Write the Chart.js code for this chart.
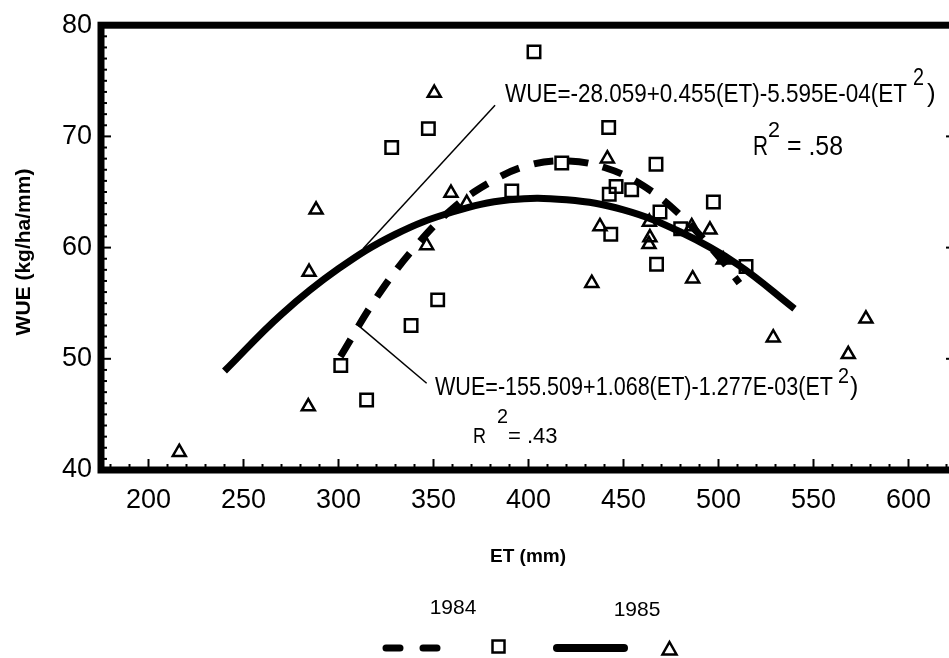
<!DOCTYPE html>
<html>
<head>
<meta charset="utf-8">
<script src="https://cdn.jsdelivr.net/npm/chart.js@4.4.1/dist/chart.umd.min.js"></script>
<style>
  html, body { margin:0; padding:0; background:#fff; overflow:hidden; width:949px; height:658px; }
  #wrap { position:relative; width:949px; height:658px; overflow:hidden; }
  #chartWue { position:absolute; left:0; top:0; display:block; width:960px; height:658px; }
</style>
</head>
<body>
<div id="wrap"><canvas id="chartWue" width="960" height="658"></canvas></div>
<script>
// ── DATA ──────────────────────────────────────────────
var xTicks = [200, 250, 300, 350, 400, 450, 500, 550, 600];
var yTicks = [40, 50, 60, 70, 80];

// 1984 observations (squares)
var et1984  = [402.9, 347.3, 328.0, 442.2, 467.1, 391.2, 446.1, 454.3, 442.5, 469.2, 443.3, 497.3, 480.1, 467.4, 514.5, 352.2, 338.2, 301.2, 314.8, 417.5];
var wue1984 = [77.6, 70.7, 69.0, 70.8, 67.5, 65.1, 65.5, 65.2, 64.8, 63.2, 61.2, 64.1, 61.7, 58.5, 58.3, 55.3, 53.0, 49.4, 46.3, 67.6];

// 1985 observations (triangles)
var et1985  = [350.4, 441.5, 359.2, 367.5, 463.6, 463.9, 463.4, 437.6, 346.4, 495.5, 486.4, 433.3, 528.8, 577.6, 568.3, 288.2, 284.5, 284.1, 216.2, 502.5, 485.9];
var wue1985 = [73.9, 68.0, 64.9, 64.0, 62.3, 60.9, 60.3, 61.9, 60.2, 61.6, 57.2, 56.8, 51.9, 53.6, 50.4, 63.4, 57.8, 45.7, 41.6, 58.9, 61.9];

// fitted curves
var fitEt1984  = [301, 320, 340, 360, 380, 400, 420, 440, 460, 480, 500, 511];
var fitWue1984 = [50.2, 55.5, 60.0, 63.5, 65.9, 67.4, 67.8, 67.2, 65.6, 62.9, 59.2, 56.8];
var fitEt1985  = [240, 270, 300, 330, 360, 390, 420, 450, 480, 510, 540];
var fitWue1985 = [48.9, 54.0, 58.1, 61.2, 63.2, 64.3, 64.3, 63.4, 61.4, 58.5, 54.5];

// leader lines from the equations to the curves
var lead1Et  = [312.9, 382.4];
var lead1Wue = [59.9, 72.8];
var lead2Et  = [310.4, 346.4];
var lead2Wue = [53.0, 47.8];

var FONT = "'Liberation Sans', Arial, Helvetica, sans-serif";

function pts(xs, ys){
  return xs.map(function(x, i){ return {x:x, y:ys[i]}; });
}

// ── PLUGINS ───────────────────────────────────────────
var framePlugin = {
  id:'frame',
  afterDatasetsDraw: function(chart){
    var ctx = chart.ctx, a = chart.chartArea;
    var sx = chart.scales.x, sy = chart.scales.y;
    ctx.save();
    ctx.strokeStyle = '#000';
    ctx.lineWidth = 7;
    ctx.strokeRect(a.left, a.top, a.right - a.left, a.bottom - a.top);

    ctx.lineWidth = 2;
    var v, p;
    // bottom ticks, minor every 10
    for(v = 180; v <= 620; v += 10){
      p = sx.getPixelForValue(v);
      ctx.beginPath();
      ctx.moveTo(p, a.bottom); ctx.lineTo(p, a.bottom - (v % 50 === 0 ? 11 : 6));
      ctx.stroke();
    }
    // left / right ticks
    for(v = 41; v <= 79; v += 1){
      p = sy.getPixelForValue(v);
      var maj = v % 10 === 0;
      ctx.beginPath();
      ctx.moveTo(a.left, p); ctx.lineTo(a.left + (maj ? 10 : 6), p);
      ctx.stroke();
      if(maj){
        ctx.beginPath();
        ctx.moveTo(a.right, p); ctx.lineTo(a.right - 10, p);
        ctx.stroke();
      }
    }
    ctx.restore();
  }
};

function txt(ctx, s, x, y, size, maxW, weight){
  ctx.font = (weight || 'normal') + ' ' + size + 'px ' + FONT;
  if(maxW) ctx.fillText(s, x, y, maxW); else ctx.fillText(s, x, y);
}

var textPlugin = {
  id:'texts',
  afterDraw: function(chart){
    var ctx = chart.ctx;
    ctx.save();
    ctx.fillStyle = '#000';
    ctx.textBaseline = 'alphabetic';
    ctx.textAlign = 'left';

    // equation 1985
    txt(ctx, 'WUE=-28.059+0.455(ET)-5.595E-04(ET', 505, 102, 26, 402);
    txt(ctx, '2', 913, 85, 24, 11);
    txt(ctx, ')', 927, 102, 26);
    txt(ctx, 'R', 753, 155, 28, 15);
    txt(ctx, '2', 768, 137, 22, 12);
    txt(ctx, '= .58', 787, 155, 28, 56);

    // equation 1984
    txt(ctx, 'WUE=-155.509+1.068(ET)-1.277E-03(ET', 435, 395, 25, 398);
    txt(ctx, '2', 838, 383, 22, 11);
    txt(ctx, ')', 850, 395, 25);
    txt(ctx, 'R', 473, 443, 22, 13);
    txt(ctx, '2', 497, 423, 20, 11);
    txt(ctx, '= .43', 508, 443, 22, 52);

    // axis titles
    ctx.textAlign = 'center';
    ctx.textBaseline = 'middle';
    txt(ctx, 'ET (mm)', 528, 557, 19, null, 'bold');
    ctx.save();
    ctx.translate(24, 252);
    ctx.rotate(-Math.PI / 2);
    txt(ctx, 'WUE (kg/ha/mm)', 0, 0, 21, null, 'bold');
    ctx.restore();

    // legend
    txt(ctx, '1984', 453, 608, 21, 47);
    txt(ctx, '1985', 637, 610, 21, 47);

    ctx.strokeStyle = '#000';
    ctx.lineCap = 'round';
    ctx.lineWidth = 7;
    ctx.beginPath();
    ctx.moveTo(386, 648); ctx.lineTo(400, 648);
    ctx.moveTo(423, 648); ctx.lineTo(437, 648);
    ctx.stroke();
    ctx.lineWidth = 8;
    ctx.beginPath();
    ctx.moveTo(557, 648); ctx.lineTo(624, 648);
    ctx.stroke();

    ctx.lineCap = 'butt';
    ctx.lineWidth = 2.5;
    ctx.strokeRect(492.5, 640.5, 12, 12);
    ctx.beginPath();
    ctx.moveTo(669.5, 642); ctx.lineTo(676.5, 654.5); ctx.lineTo(662.5, 654.5);
    ctx.closePath();
    ctx.stroke();
    ctx.restore();
  }
};

// ── CHART ─────────────────────────────────────────────
var hollow = 'rgba(0,0,0,0)';

new Chart(document.getElementById('chartWue'), {
  type:'scatter',
  data:{
    datasets:[
      { label:'1984', data:pts(et1984, wue1984), pointStyle:'rect', pointRadius:8.8,
        borderColor:'#000', backgroundColor:hollow, borderWidth:2.5 },
      { label:'1985', data:pts(et1985, wue1985), pointStyle:'triangle', pointRadius:7.5,
        borderColor:'#000', backgroundColor:hollow, borderWidth:2.5 },
      { label:'fit 1984', data:pts(fitEt1984, fitWue1984), showLine:true, pointRadius:0,
        borderColor:'#000', borderWidth:7, borderDash:[20, 15], tension:0.4, fill:false },
      { label:'fit 1985', data:pts(fitEt1985, fitWue1985), showLine:true, pointRadius:0,
        borderColor:'#000', borderWidth:7, tension:0.4, fill:false },
      { label:'lead1', data:pts(lead1Et, lead1Wue), showLine:true, pointRadius:0,
        borderColor:'#000', borderWidth:1.5, tension:0 },
      { label:'lead2', data:pts(lead2Et, lead2Wue), showLine:true, pointRadius:0,
        borderColor:'#000', borderWidth:1.5, tension:0 }
    ]
  },
  options:{
    responsive:false, maintainAspectRatio:false, animation:false, devicePixelRatio:1,
    layout:{ autoPadding:false, padding:{ top:23, right:4, left:0, bottom:0 } },
    plugins:{ legend:{ display:false }, tooltip:{ enabled:false } },
    scales:{
      x:{
        type:'linear', min:175, max:625,
        grid:{ display:false, drawTicks:false },
        border:{ display:false },
        afterBuildTicks:function(s){ s.ticks = xTicks.map(function(v){ return {value:v}; }); },
        afterFit:function(s){ s.height = 188; },
        ticks:{ color:'#000', padding:14, font:{ size:27, family:FONT } }
      },
      y:{
        type:'linear', min:40, max:80,
        grid:{ display:false, drawTicks:false },
        border:{ display:false },
        afterBuildTicks:function(s){ s.ticks = yTicks.map(function(v){ return {value:v}; }); },
        afterFit:function(s){ s.width = 101; },
        ticks:{ color:'#000', padding:9, font:{ size:27, family:FONT } }
      }
    }
  },
  plugins:[framePlugin, textPlugin]
});
</script>
</body>
</html>
